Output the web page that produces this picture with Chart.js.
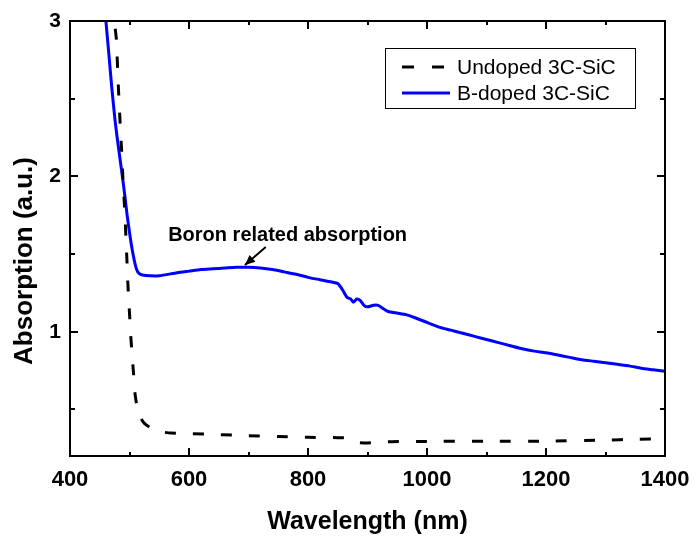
<!DOCTYPE html>
<html>
<head>
<meta charset="utf-8">
<title>Absorption of 3C-SiC</title>
<script src="https://cdn.jsdelivr.net/npm/chart.js@4.4.0/dist/chart.umd.min.js"></script>
<style>
  html, body { margin: 0; padding: 0; background: #fff; }
  #wrap { width: 695px; height: 541px; }
</style>
</head>
<body>
<div id="wrap"><canvas id="absChart"></canvas></div>
<script>
// --- data ---
const undopedWl = [476, 478, 481, 484, 487, 489, 492, 494, 496, 498, 500, 502, 504, 507, 509, 512, 514, 518, 525, 537,
  551, 570, 600, 650, 700, 750, 800, 850, 866, 875, 884, 900, 920, 940, 1000, 1100, 1200, 1300, 1350, 1400];
const undopedAbs = [2.95, 2.88, 2.6, 2.36, 2.15, 1.98, 1.78, 1.61, 1.43, 1.25, 1.12, 0.98, 0.87, 0.72, 0.61, 0.53, 0.49, 0.45, 0.41, 0.378,
  0.357, 0.348, 0.344, 0.338, 0.331, 0.325, 0.32, 0.318, 0.316, 0.30, 0.287, 0.284, 0.288, 0.292, 0.294, 0.295, 0.296, 0.302, 0.308, 0.31];

const bdopedWl = [458, 465, 470, 476, 482, 487, 492, 496, 500, 504, 508, 512, 516, 522, 535, 550, 580, 600, 620, 640,
  660, 680, 700, 720, 740, 760, 780, 800, 820, 840, 850, 858, 866, 872, 876, 882, 888, 894, 900, 910,
  918, 926, 935, 950, 965, 980, 1000, 1020, 1040, 1060, 1080, 1100, 1120, 1140, 1160, 1180, 1200, 1220, 1240, 1260,
  1280, 1300, 1320, 1340, 1360, 1380, 1400];
const bdopedAbs = [3.1, 2.8, 2.58, 2.35, 2.17, 2.03, 1.88, 1.75, 1.64, 1.54, 1.46, 1.40, 1.375, 1.365, 1.36, 1.36, 1.38, 1.39, 1.40, 1.405,
  1.41, 1.415, 1.415, 1.41, 1.40, 1.385, 1.37, 1.35, 1.335, 1.32, 1.31, 1.27, 1.22, 1.21, 1.19, 1.21, 1.20, 1.17, 1.16, 1.17,
  1.17, 1.15, 1.13, 1.12, 1.11, 1.09, 1.06, 1.03, 1.01, 0.99, 0.97, 0.95, 0.93, 0.91, 0.89, 0.875, 0.865, 0.85, 0.835, 0.82,
  0.81, 0.80, 0.79, 0.78, 0.765, 0.755, 0.745];

const seriesNames = ['Undoped 3C-SiC', 'B-doped 3C-SiC'];

// tick values (every one gets a mark, only the labelled ones get text)
const xTickValues = [400, 500, 600, 700, 800, 900, 1000, 1100, 1200, 1300, 1400];
const xTickLabels = [400, 600, 800, 1000, 1200, 1400];
const yTickValues = [0.5, 1, 1.5, 2, 2.5, 3];
const yTickLabels = [1, 2, 3];

const xTitle = 'Wavelength (nm)';
const yTitle = 'Absorption (a.u.)';
const noteText = 'Boron related absorption';

const FONT = "'Liberation Sans', Arial, Helvetica, sans-serif";

const toPoints = (xs, ys) => xs.map((x, i) => ({ x, y: ys[i] }));

// --- frame, inward ticks, legend, note and titles ---
const decorations = {
  id: 'decorations',
  afterDraw(chart) {
    const { ctx, chartArea: a } = chart;
    const xs = chart.scales.x, ys = chart.scales.y;

    const seg = (x1, y1, x2, y2) => {
      ctx.beginPath();
      ctx.moveTo(x1, y1);
      ctx.lineTo(x2, y2);
      ctx.stroke();
    };

    ctx.save();
    ctx.strokeStyle = '#000';
    ctx.lineWidth = 2;
    ctx.strokeRect(a.left, a.top, a.right - a.left, a.bottom - a.top);

    xTickValues.forEach(v => {
      const px = Math.round(xs.getPixelForValue(v));
      const len = xTickLabels.includes(v) ? 8 : 4;
      seg(px, a.bottom, px, a.bottom - len);
      seg(px, a.top, px, a.top + len);
    });
    yTickValues.forEach(v => {
      const py = Math.round(ys.getPixelForValue(v));
      const len = yTickLabels.includes(v) ? 8 : 5;
      seg(a.left, py, a.left + len, py);
      seg(a.right, py, a.right - len, py);
    });

    // legend
    ctx.lineWidth = 1;
    ctx.strokeRect(385.5, 48.5, 250, 60);
    ctx.font = '21px ' + FONT;
    ctx.fillStyle = '#000';
    ctx.textBaseline = 'middle';
    ctx.textAlign = 'left';
    chart.data.datasets.forEach((ds, i) => {
      const ly = 67 + i * 26;
      ctx.strokeStyle = ds.borderColor;
      ctx.lineWidth = 3;
      ctx.setLineDash(ds.borderDash ? [12, 18] : []);
      seg(402, ly, 450, ly);
      ctx.setLineDash([]);
      ctx.fillText(ds.label, 457, ly + 1);
    });

    // note with arrow, anchored in data units
    const tipX = xs.getPixelForValue(694), tipY = ys.getPixelForValue(1.43);
    const tailX = xs.getPixelForValue(729), tailY = ys.getPixelForValue(1.546);
    ctx.strokeStyle = '#000';
    ctx.lineWidth = 2;
    seg(tailX, tailY, tipX, tipY);
    const ang = Math.atan2(tipY - tailY, tipX - tailX);
    ctx.beginPath();
    ctx.moveTo(tipX, tipY);
    ctx.lineTo(tipX - 11 * Math.cos(ang - 0.42), tipY - 11 * Math.sin(ang - 0.42));
    ctx.lineTo(tipX - 11 * Math.cos(ang + 0.42), tipY - 11 * Math.sin(ang + 0.42));
    ctx.closePath();
    ctx.fill();

    ctx.font = 'bold 20px ' + FONT;
    ctx.textBaseline = 'alphabetic';
    ctx.fillText(noteText, xs.getPixelForValue(565), ys.getPixelForValue(1.585));

    // axis titles
    ctx.font = 'bold 25px ' + FONT;
    ctx.textAlign = 'center';
    ctx.textBaseline = 'middle';
    ctx.fillText(xTitle, (a.left + a.right) / 2, 522);
    ctx.translate(25, 261);
    ctx.rotate(-Math.PI / 2);
    ctx.font = 'bold 26px ' + FONT;
    ctx.fillText(yTitle, 0, 0);
    ctx.restore();
  }
};

new Chart(document.getElementById('absChart'), {
  type: 'line',
  data: {
    datasets: [
      {
        label: seriesNames[0],
        data: toPoints(undopedWl, undopedAbs),
        borderColor: '#000000',
        borderWidth: 3,
        borderDash: [11, 17],
        pointRadius: 0,
        tension: 0.2
      },
      {
        label: seriesNames[1],
        data: toPoints(bdopedWl, bdopedAbs),
        borderColor: '#0000ff',
        borderWidth: 3,
        pointRadius: 0,
        tension: 0.2
      }
    ]
  },
  options: {
    responsive: true,
    maintainAspectRatio: false,
    animation: false,
    devicePixelRatio: 1,
    layout: { padding: { top: 21, right: 30, left: 0, bottom: 0 } },
    plugins: {
      legend: { display: false },
      tooltip: { enabled: false }
    },
    scales: {
      x: {
        type: 'linear',
        min: 400,
        max: 1400,
        grid: { display: false },
        border: { display: false },
        afterBuildTicks: s => { s.ticks = xTickValues.map(value => ({ value })); },
        afterFit: s => { s.height = 85; s.paddingLeft = 0; s.paddingRight = 0; },
        ticks: {
          autoSkip: false,
          maxRotation: 0,
          padding: 3,
          color: '#000',
          font: { family: FONT, size: 22, weight: 'bold' },
          callback: v => (xTickLabels.includes(v) ? String(v) : '')
        }
      },
      y: {
        type: 'linear',
        min: 0.2,
        max: 3,
        grid: { display: false },
        border: { display: false },
        afterBuildTicks: s => { s.ticks = yTickValues.map(value => ({ value })); },
        afterFit: s => { s.width = 70; s.paddingTop = 0; s.paddingBottom = 0; },
        ticks: {
          autoSkip: false,
          padding: 1,
          color: '#000',
          font: { family: FONT, size: 21, weight: 'bold' },
          callback: v => (yTickLabels.includes(v) ? String(v) : '')
        }
      }
    }
  },
  plugins: [decorations]
});
</script>
</body>
</html>
